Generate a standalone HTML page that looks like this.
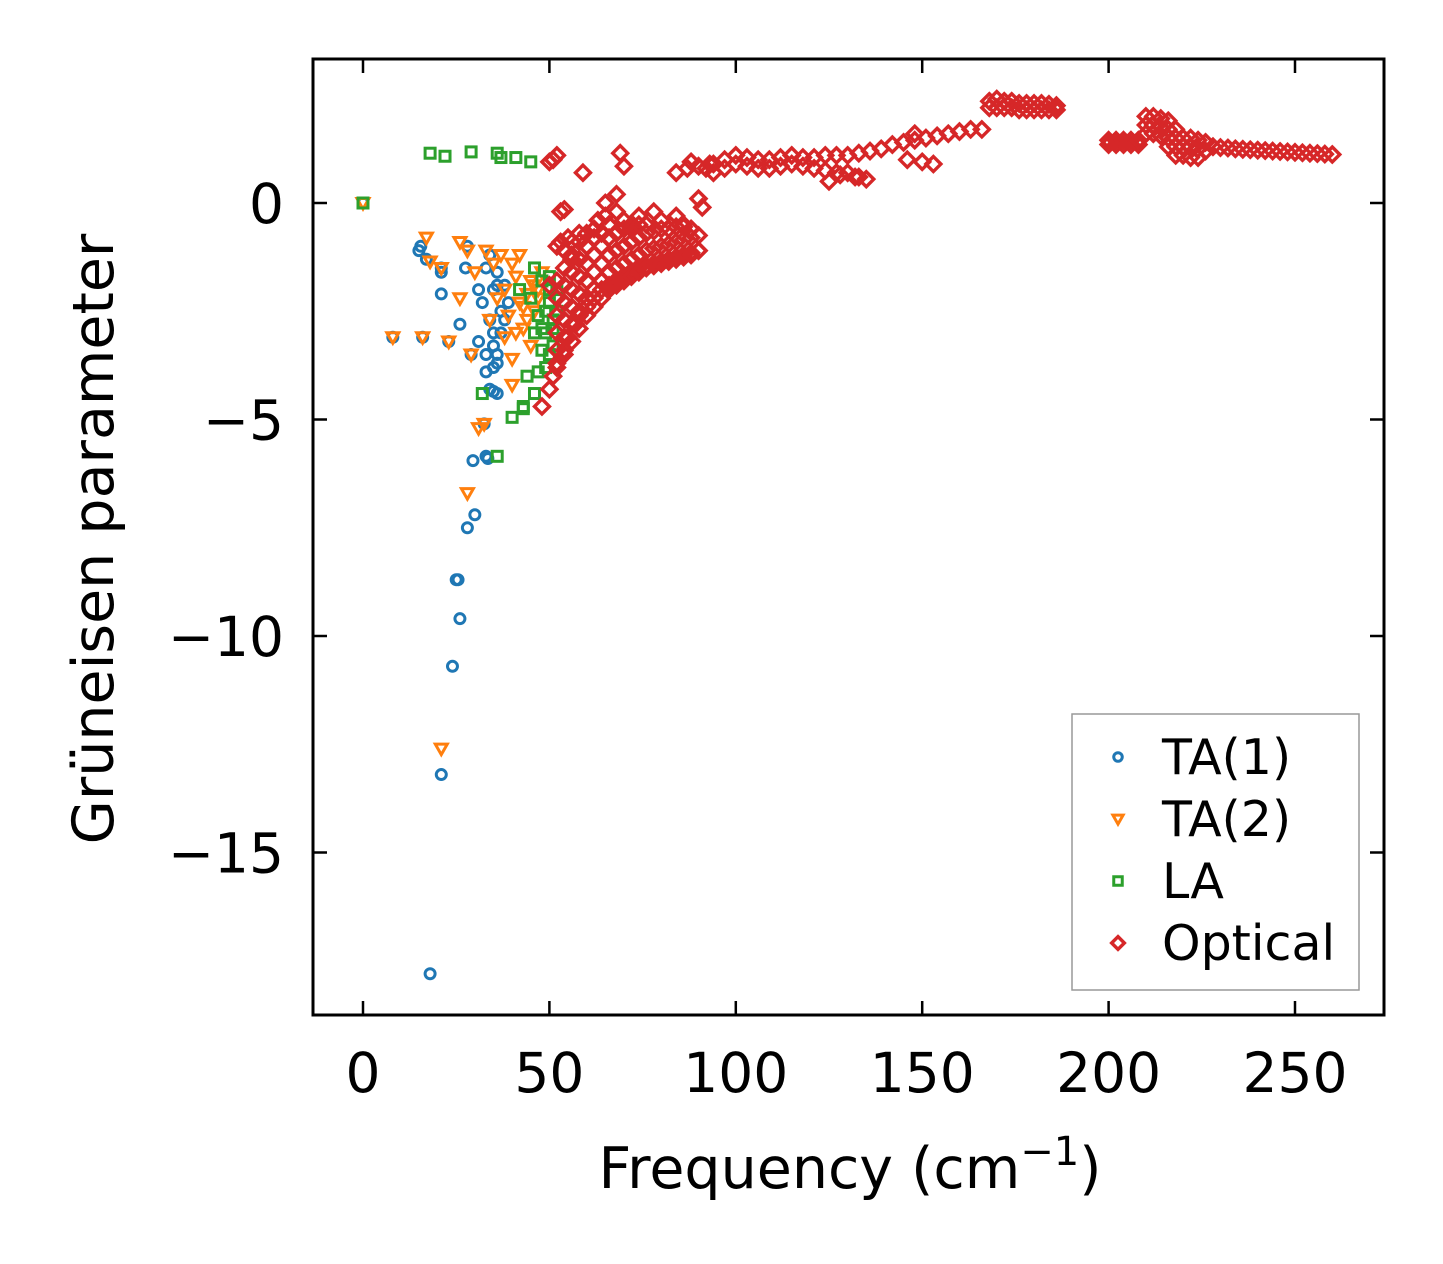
<!DOCTYPE html>
<html><head><meta charset="utf-8"><style>
body{margin:0;background:#fff}
svg{display:block}
text{font-family:"DejaVu Sans","Liberation Sans",sans-serif;fill:#000}
</style></head><body>
<svg id="chart" width="1443" height="1264" viewBox="0 0 1443 1264">
<g id="marks"></g>
<rect x="313" y="59" width="1071" height="956" fill="none" stroke="#000" stroke-width="3"/>
<g id="ticks"></g>
<text transform="translate(113,539) rotate(-90)" text-anchor="middle" font-size="57">Grüneisen parameter</text>
<text x="850" y="1188" text-anchor="middle" font-size="57">Frequency (cm<tspan dy="-23" font-size="40">−1</tspan><tspan dy="23">)</tspan></text>
<g>
<rect x="1072" y="714" width="287" height="276" fill="#fff" stroke="#999" stroke-width="1.5"/>
<g id="legend-items"></g>
</g>
</svg>
<script>
const xTicks=[0,50,100,150,200,250];
const yTicks=[0,-5,-10,-15];
const yTickLabels=["0","−5","−10","−15"];
const seriesNames=["TA(1)","TA(2)","LA","Optical"];
const ta1X=[0,15,15.5,8,16,17,21,21,21,23,18,21,24,26,25.5,25,28,30,29.5,33,33.5,32.5,26,27.5,28,29,31,32,31,33,34,35,35,36,33,34,35,36,37,35,37,38,36,34,38,39,36,33,36,35];
const ta1Y=[0,-1.1,-1.0,-3.1,-3.1,-1.3,-1.5,-1.6,-2.1,-3.2,-17.8,-13.2,-10.7,-9.6,-8.7,-8.7,-7.5,-7.2,-5.95,-5.85,-5.9,-5.1,-2.8,-1.5,-1.0,-3.5,-2.0,-2.3,-3.2,-3.9,-4.3,-4.35,-3.8,-3.5,-1.5,-2.7,-2.0,-1.9,-2.5,-3.0,-3.0,-1.9,-1.6,-1.2,-2.7,-2.3,-3.7,-3.5,-4.4,-3.3];
const ta2X=[0,8,16,17,18,21,21,23,26,26,28,28,29,30,31,32.5,33,34,35,36,37,38,39,40,40,41,42,42,43,44,45,45,46,47,48,40,38,41,43,46,44,47];
const ta2Y=[0,-3.1,-3.1,-0.8,-1.35,-1.5,-12.6,-3.2,-2.2,-0.9,-6.7,-1.1,-3.5,-1.6,-5.2,-5.1,-1.1,-2.7,-1.4,-2.2,-1.2,-3.1,-2.6,-1.4,-4.2,-1.7,-1.2,-2.3,-2.9,-2.1,-3.3,-1.8,-2.5,-2.0,-1.6,-3.6,-2.0,-3.0,-2.4,-1.9,-2.7,-2.2];
const laX=[0,18,22,29,36,37,41,45,36,32,40,43,44,46,47,48,49,50,49,50,51,52,46,48,45,42,47,50,51,49,52,48,43,46,50,51];
const laY=[0,1.15,1.08,1.18,1.15,1.05,1.05,0.95,-5.85,-4.4,-4.95,-4.75,-4.0,-4.4,-3.9,-3.4,-3.0,-3.5,-2.5,-2.0,-2.7,-2.5,-1.5,-1.8,-2.2,-2.0,-2.6,-1.7,-3.3,-3.8,-2.0,-2.9,-4.7,-3.0,-2.3,-2.9];
const optX=[48,50,51,52,54,55,57,58,60,62,64,66,68,70,72,74,76,78,80,82,84,86,88,90,
50,52,53,55,56,58,60,62,63,65,66,68,70,72,74,76,78,80,82,84,86,88,90,91,
50,51,52,53,54,59,65,68,69,70,84,87,88,90,92,93,
52,52,52,52,52,52,54,54,54,54,54,54,54,56,56,56,56,56,56,56,58,58,58,58,58,58,60,60,60,60,60,60,62,62,62,62,62,64,64,64,64,64,66,66,66,66,66,68,68,68,68,70,70,70,70,72,72,72,72,74,74,74,74,76,76,76,78,78,78,80,80,80,82,82,82,84,84,84,86,86,86,88,88,88,90,90,
94,94,97,97,100,100,103,103,106,106,109,109,112,112,115,115,118,118,121,121,124,124,127,127,130,130,133,133,136,139,142,145,148,148,151,154,157,160,163,166,150,153,146,125,128,132,135,
168,170,172,174,176,178,180,182,184,186,168,170,172,174,176,178,180,182,184,186,
200,202,204,206,208,200,202,204,206,208,
210,210,210,212,212,212,214,214,214,216,216,216,216,218,218,218,218,220,220,220,222,222,222,224,224,224,226,226,
228,230,232,234,236,238,240,242,244,246,248,250,252,254,256,258,260];
const optY=[-4.7,-4.3,-4.0,-3.7,-3.4,-3.1,-2.8,-2.6,-2.4,-2.2,-2.0,-1.9,-1.8,-1.7,-1.6,-1.5,-1.45,-1.4,-1.35,-1.3,-1.25,-1.2,-1.15,-1.1,
-1.9,-1.0,-0.9,-0.8,-1.3,-0.7,-1.0,-0.6,-0.4,-0.3,-0.5,-0.2,-0.4,-0.5,-0.3,-0.5,-0.2,-0.4,-0.6,-0.3,-0.5,-0.6,0.1,-0.1,
0.95,1.0,1.1,-0.2,-0.15,0.7,0.0,0.2,1.15,0.85,0.7,0.8,0.95,0.85,0.8,0.9,
-3.8,-3.4,-3.0,-2.6,-2.2,-1.8,-3.5,-3.1,-2.7,-2.3,-1.9,-1.5,-1.1,-3.2,-2.8,-2.4,-2.0,-1.6,-1.2,-0.9,-2.9,-2.5,-2.1,-1.7,-1.3,-0.9,-2.6,-2.2,-1.8,-1.4,-1.0,-0.7,-2.4,-2.0,-1.6,-1.2,-0.8,-2.2,-1.8,-1.4,-1.0,-0.7,-2.0,-1.6,-1.2,-0.8,-0.5,-1.9,-1.5,-1.1,-0.7,-1.8,-1.4,-1.0,-0.6,-1.7,-1.3,-0.9,-0.6,-1.6,-1.2,-0.8,-0.5,-1.5,-1.1,-0.7,-1.45,-1.05,-0.65,-1.4,-1.0,-0.6,-1.35,-0.95,-0.6,-1.3,-0.9,-0.55,-1.25,-0.85,-0.55,-1.2,-0.8,-0.6,-1.1,-0.75,
0.7,0.9,0.8,1.0,0.9,1.1,0.85,1.05,0.8,1.0,0.8,1.0,0.85,1.05,0.9,1.1,0.85,1.05,0.8,1.05,0.75,1.1,0.7,1.1,0.7,1.1,0.6,1.15,1.2,1.25,1.35,1.4,1.45,1.6,1.5,1.55,1.6,1.65,1.7,1.7,0.95,0.9,1.0,0.5,0.65,0.6,0.55,
2.35,2.4,2.35,2.35,2.3,2.3,2.3,2.3,2.28,2.25,2.2,2.2,2.2,2.2,2.15,2.15,2.15,2.15,2.15,2.15,
1.35,1.35,1.35,1.35,1.35,1.45,1.45,1.45,1.45,1.45,
2.0,1.8,1.6,2.0,1.8,1.6,1.95,1.75,1.55,1.9,1.7,1.5,1.3,1.7,1.5,1.3,1.1,1.5,1.3,1.1,1.5,1.3,1.05,1.45,1.25,1.05,1.4,1.2,
1.3,1.28,1.27,1.25,1.24,1.23,1.22,1.21,1.2,1.19,1.18,1.17,1.16,1.15,1.14,1.13,1.12];

const NS="http://www.w3.org/2000/svg";
const X0=313,X1=1384,Y0=59,Y1=1015;
function sx(v){return 363+v*3.728;}
function sy(v){return 203-v*43.3;}
function mk(tag,attrs,parent){const e=document.createElementNS(NS,tag);for(const k in attrs)e.setAttribute(k,attrs[k]);parent.appendChild(e);return e;}
const colors=["#1f77b4","#ff7f0e","#2ca02c","#d62728"];
function marker(kind,x,y,parent,s){
  let e;
  if(kind===0){e=mk("circle",{cx:x,cy:y,r:5*s},parent);}
  else if(kind===1){e=mk("polygon",{points:`${x-6*s},${y-4.5*s} ${x+6*s},${y-4.5*s} ${x},${y+6*s}`},parent);}
  else if(kind===2){e=mk("rect",{x:x-5*s,y:y-5*s,width:10*s,height:10*s},parent);}
  else {e=mk("polygon",{points:`${x},${y-7.5*s} ${x+7.5*s},${y} ${x},${y+7.5*s} ${x-7.5*s},${y}`},parent);}
  e.setAttribute("fill","none");e.setAttribute("stroke",colors[kind]);e.setAttribute("stroke-width",kind===3?3.4:3);
  return e;
}
const marks=document.getElementById("marks");
const sets=[[ta1X,ta1Y],[ta2X,ta2Y],[laX,laY],[optX,optY]];
[0,1,2,3].forEach(k=>{
  const g=mk("g",{},marks);
  
  
  const [xs,ys]=sets[k];
  for(let i=0;i<xs.length;i++){
    const m=marker(k,sx(xs[i]),sy(ys[i]),g,1);
    
    
  }
});
const ticks=document.getElementById("ticks");
xTicks.forEach(t=>{
  const x=sx(t);
  mk("line",{x1:x,x2:x,y1:Y1,y2:Y1-14,stroke:"#000","stroke-width":2.5},ticks);
  mk("line",{x1:x,x2:x,y1:Y0,y2:Y0+14,stroke:"#000","stroke-width":2.5},ticks);
  const tx=mk("text",{x:x,y:1092,"text-anchor":"middle","font-size":55},ticks);
  tx.textContent=String(t);
  
  
});
yTicks.forEach((t,i)=>{
  const y=sy(t);
  mk("line",{x1:X0,x2:X0+14,y1:y,y2:y,stroke:"#000","stroke-width":2.5},ticks);
  mk("line",{x1:X1,x2:X1-14,y1:y,y2:y,stroke:"#000","stroke-width":2.5},ticks);
  const tx=mk("text",{x:284,y:y+20,"text-anchor":"end","font-size":55},ticks);
  tx.textContent=yTickLabels[i];
  
  
});
const li=document.getElementById("legend-items");
seriesNames.forEach((n,k)=>{
  const y=757+k*62;
  const g=mk("g",{},li);
  
  
  marker(k,1118,y,g,0.85);
  const t=mk("text",{x:1162,y:y+17,"font-size":49},g);
  t.textContent=n;
});
</script>
</body></html>
